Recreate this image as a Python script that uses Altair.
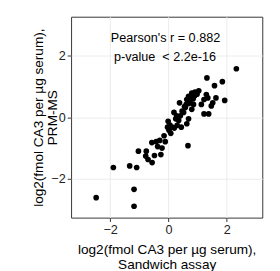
import altair as alt
import pandas as pd

sandwich = [2.33, 1.32, 1.85, 1.58, 1.93, 1.04, 0.91, 0.80, 0.69, 0.63,
            1.30, 1.35, 1.63, 1.52, 1.47, 1.22, 1.13, 0.86, 0.80, 0.61,
            0.58, 0.38, 0.52, 0.41, 0.19, 0.35, 0.69, 0.63, 0.30, 0.44,
            0.13, 0.02, 0.08, -0.01, -0.03, 1.38, 1.22, -0.11, -0.42, -0.57,
            -0.37, -0.22, -0.26, -0.48, -0.76, -0.78, -0.70, -0.56, -1.03, 0.67,
            -1.09, -1.33, -1.89, -2.48, -1.18, -1.18, 0.74, 0.90, 0.75, 0.55,
            0.25, 0.05, 0.20, 0.98, 0.85, 0.70, 0.47, 0.28, -0.15, -0.30]
prm = [1.58, 1.28, 1.16, 1.03, 0.55, 0.86, 0.82, 0.79, 0.68, 0.58,
       0.74, 0.63, 0.63, 0.47, 0.37, 0.58, 0.42, 0.42, 0.26, 0.42,
       0.32, 0.47, 0.16, 0.05, 0.16, -0.10, -0.05, -0.21, -0.26, -0.32,
       -0.32, -0.42, -0.52, -0.13, -0.32, 0.11, 0.11, -0.79, -0.79, -0.82,
       -0.95, -1.00, -1.21, -1.24, -1.10, -1.26, -1.37, -1.47, -1.10, -0.92,
       -1.63, -1.58, -1.63, -2.61, -2.34, -2.89, 0.53, 0.70, 0.65, 0.35,
       -0.05, -0.25, -0.35, 0.75, 0.60, 0.45, 0.20, 0.05, -0.60, -0.75]

ann_x = [-0.1, -0.12]
ann_y = [2.58, 1.95]
ann_text = ["Pearson's r = 0.882", "p-value\u00a0 < 2.2e-16"]

df = pd.DataFrame({"x": sandwich, "y": prm})
ann = pd.DataFrame({"x": ann_x, "y": ann_y, "t": ann_text})

FONT = "Liberation Sans"

xs = alt.Scale(domain=[-3.34, 3.22], nice=False, zero=False)
ys = alt.Scale(domain=[-3.26, 3.27], nice=False, zero=False)

points = alt.Chart(df).mark_circle(size=34, color="black", opacity=1).encode(
    x=alt.X("x:Q", scale=xs,
            axis=alt.Axis(values=[-2, 0, 2], title=["log2(fmol CA3 per µg serum),", "Sandwich assay"],
                          titlePadding=7)),
    y=alt.Y("y:Q", scale=ys,
            axis=alt.Axis(values=[-2, 0, 2], title=["log2(fmol CA3 per µg serum),", "PRM-MS"],
                          titlePadding=-9)),
)

text = alt.Chart(ann).mark_text(font=FONT, fontSize=13, color="black", align="center",
                                baseline="middle").encode(
    x=alt.X("x:Q", scale=xs), y=alt.Y("y:Q", scale=ys), text="t:N"
)

chart = (points + text).properties(
    width=197, height=207,
    autosize=alt.AutoSizeParams(type="none"),
    padding={"left": 65, "top": 5, "right": 10, "bottom": 51},
).configure_view(stroke="#333333", strokeWidth=1).configure_axis(
    domain=False, grid=True, gridColor="#ebebeb", gridWidth=1,
    tickColor="#333333", tickSize=4, labelFont=FONT, labelFontSize=13,
    labelColor="#222222", labelPadding=2, titleFont=FONT, titleFontSize=14,
    titleFontWeight="normal", titleColor="black", titleLineHeight=15,
)

chart.save("out.html", embed_options={"renderer": "svg", "actions": False})
